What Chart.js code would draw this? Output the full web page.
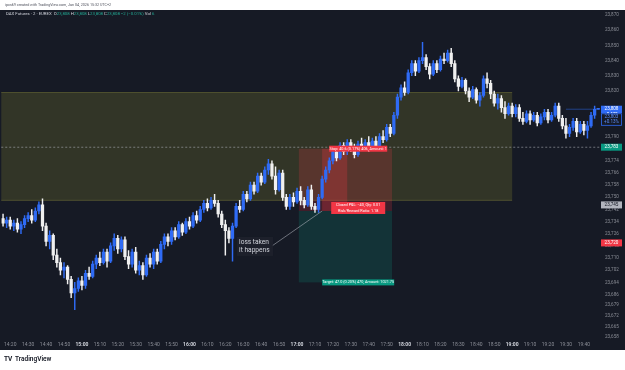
<!DOCTYPE html>
<html>
<head>
<meta charset="utf-8">
<script src="https://cdn.jsdelivr.net/npm/chart.js@4.4.1/dist/chart.umd.min.js"></script>
<style>
html,body{margin:0;padding:0;background:#ffffff;}
#wrap{width:625px;height:370px;}
</style>
</head>
<body>
<div id="wrap"><canvas id="chart" width="625" height="370"></canvas></div>
<script>
// 2 minute candles, 14:16 -> 19:48
const times = [];
for (let i = 0; i < 167; i++) {
    const m = 14 * 60 + 16 + i * 2;
    times.push(Math.floor(m / 60) + ":" + String(m % 60).padStart(2, "0"));
}

const opens = [23736,23733,
 23735,23731,23733,23729,23732, 23736,23738,23735,23741,23745, 23731,23721,23725,23712,23707,
 23702,23704,23696,23687,23690, 23695,23692,23700,23698,23706, 23710,23707,23714,23708,23718,
 23723,23716,23722,23711,23706, 23714,23702,23705,23699,23710, 23706,23714,23708,23719,23724,
 23721,23728,23724,23732,23727, 23734,23731,23738,23735,23742, 23746,23743,23748,23746,23739,
 23732,23728,23723,23731,23744, 23742,23752,23749,23758,23754, 23764,23760,23768,23772,23764,
 23755,23766,23750,23744,23750, 23747,23754,23748,23745,23755, 23744,23742,23750,23762,23768,
 23774,23780,23776,23784,23780, 23786,23782,23778,23785,23783, 23786,23782,23787,23784,23790,
 23788,23796,23792,23804,23816, 23822,23819,23832,23838,23833, 23840,23842,23836,23831,23838,
 23834,23841,23840,23845,23838, 23828,23823,23827,23820,23816, 23821,23814,23817,23828,23825,
 23818,23812,23815,23809,23805, 23810,23805,23809,23802,23800, 23805,23801,23804,23799,23803,
 23806,23801,23804,23810,23802, 23797,23792,23796,23800,23793, 23798,23794,23797,23804,23808];

const highs = [23739,23737,
 23737,23735,23736,23734,23738, 23740,23742,23743,23747,23749, 23733,23728,23726,23716,23710,
 23707,23705,23698,23694,23697, 23698,23702,23704,23708,23712, 23714,23716,23716,23720,23726,
 23725,23724,23724,23715,23716, 23717,23708,23707,23712,23713, 23716,23716,23721,23726,23726,
 23730,23730,23734,23733,23736, 23737,23740,23741,23744,23748, 23749,23750,23752,23748,23741,
 23735,23730,23733,23746,23748, 23754,23754,23760,23760,23766, 23766,23770,23775,23774,23770,
 23768,23768,23752,23752,23753, 23756,23757,23750,23757,23758, 23746,23752,23764,23770,23776,
 23782,23783,23786,23786,23788, 23788,23785,23787,23789,23788, 23790,23789,23790,23792,23794,
 23798,23798,23806,23818,23824, 23826,23834,23840,23840,23842, 23852,23844,23838,23840,23840,
 23843,23845,23847,23848,23840, 23830,23829,23828,23822,23823, 23822,23819,23830,23832,23827,
 23820,23818,23817,23813,23812, 23812,23811,23811,23806,23807, 23807,23806,23806,23805,23808,
 23808,23806,23812,23812,23804, 23802,23798,23802,23802,23800, 23800,23800,23806,23810,23808];

const lows = [23731,23730,
 23729,23728,23727,23726,23730, 23734,23733,23734,23739,23728, 23718,23716,23709,23704,23699,
 23697,23693,23684,23676,23688, 23689,23690,23696,23697,23703, 23705,23706,23704,23707,23715,
 23713,23714,23709,23703,23704, 23700,23699,23696,23698,23704, 23703,23706,23707,23716,23718,
 23719,23722,23723,23725,23726, 23729,23730,23733,23734,23740, 23741,23742,23744,23737,23730,
 23712,23720,23708,23730,23740, 23741,23747,23748,23752,23753, 23758,23759,23765,23762,23752,
 23754,23748,23742,23742,23744, 23746,23745,23743,23744,23742, 23740,23740,23749,23760,23766,
 23772,23774,23775,23778,23778, 23780,23776,23777,23781,23782, 23780,23781,23782,23783,23786,
 23787,23790,23791,23802,23814, 23817,23818,23830,23830,23832, 23838,23834,23828,23830,23832,
 23833,23838,23839,23836,23826, 23820,23822,23818,23813,23815, 23812,23810,23816,23822,23815,
 23810,23808,23806,23802,23804, 23803,23803,23800,23798,23799, 23798,23800,23797,23798,23801,
 23799,23800,23803,23800,23795, 23789,23790,23794,23790,23792, 23791,23789,23796,23802,23808];

const closes = [23733,23735,
 23731,23733,23729,23732,23736, 23738,23735,23741,23745,23731, 23721,23725,23712,23707,23702,
 23704,23696,23687,23690,23695, 23692,23700,23698,23706,23710, 23707,23714,23708,23718,23723,
 23716,23722,23711,23706,23714, 23702,23705,23699,23710,23706, 23714,23708,23719,23724,23721,
 23728,23724,23732,23727,23734, 23731,23738,23735,23742,23746, 23743,23748,23746,23739,23732,
 23728,23723,23731,23744,23742, 23752,23749,23758,23754,23764, 23760,23768,23772,23764,23755,
 23766,23750,23744,23750,23747, 23754,23748,23745,23755,23744, 23742,23750,23762,23768,23774,
 23780,23776,23784,23780,23786, 23782,23778,23785,23783,23786, 23782,23787,23784,23790,23788,
 23796,23792,23804,23816,23822, 23819,23832,23838,23833,23840, 23842,23836,23831,23838,23834,
 23841,23840,23845,23838,23828, 23823,23827,23820,23816,23821, 23814,23817,23828,23825,23818,
 23812,23815,23809,23805,23810, 23805,23809,23802,23800,23805, 23801,23804,23799,23803,23806,
 23801,23804,23810,23802,23797, 23792,23796,23800,23793,23798, 23794,23797,23804,23808,23808];

const yTicks = [23870,23860,23850,23840,23830,23820,23790,23782,23774,23766,23758,23750,23742,
 23734,23726,23718,23710,23702,23694,23686,23679,23672,23665,23658];

// drawings on the chart
const zoneTop = 23819, zoneBottom = 23748, zoneEnd = "19:00";
const posStart = "17:02", posEnd = "17:52";
const entryPrice = 23741, stopPrice = 23782, targetPrice = 23694;
const lossFrom = "17:14", lossTo = "17:28";
const dashPrice = 23783;
const lastPrice = 23808;
const noteTime = "16:36", notePrice = 23718;

const UP = "#2f6bf5";
const DOWN = "#f0f0f0";
const FONT = "Roboto";

function fmt(v){
    return Math.round(v).toLocaleString("en-US");
}

function isHour(ctx){
    const t = ctx.tick && ctx.tick.label;
    return typeof t === "string" && t.endsWith(":00");
}

function badge(c, area, yScale, price, lines, bg, fg, border){
    const yc = yScale.getPixelForValue(price);
    const h = lines.length * 5.5 + 1.5;
    const top = yc - 3.5;
    const left = area.right + 1;
    c.fillStyle = bg;
    c.fillRect(left, top, 21, h);
    if(border){
        c.strokeStyle = border;
        c.lineWidth = 0.8;
        c.strokeRect(left + 0.5, top + 0.5, 20, h - 1);
    }
    c.fillStyle = fg;
    c.font = "4.6px " + FONT;
    c.textAlign = "center";
    c.textBaseline = "middle";
    lines.forEach((s, k) => c.fillText(s, left + 10.5, yc + k * 5.5));
}

const drawings = {
    id: "drawings",
    beforeDraw(chart){
        const c = chart.ctx;
        c.save();
        c.fillStyle = "#ffffff";
        c.fillRect(0, 0, chart.width, chart.height);
        c.fillStyle = "#161a25";
        c.fillRect(0, 10, chart.width, 340);
        c.restore();
    },
    beforeDatasetsDraw(chart){
        const c = chart.ctx;
        const a = chart.chartArea;
        const x = chart.scales.x, y = chart.scales.y;
        const half = (x.getPixelForValue(1) - x.getPixelForValue(0)) / 2;
        const xOf = t => x.getPixelForValue(times.indexOf(t));
        c.save();

        // olive zone
        const zt = y.getPixelForValue(zoneTop), zb = y.getPixelForValue(zoneBottom);
        const zr = xOf(zoneEnd);
        c.fillStyle = "rgba(150,150,50,0.22)";
        c.fillRect(a.left, zt, zr - a.left, zb - zt);
        c.strokeStyle = "rgba(170,170,70,0.4)";
        c.lineWidth = 0.8;
        c.beginPath();
        c.moveTo(a.left, zt); c.lineTo(zr, zt);
        c.moveTo(a.left, zb); c.lineTo(zr, zb);
        c.stroke();

        // position tool
        const pl = xOf(posStart) - half, pr = xOf(posEnd) + half;
        const ye = y.getPixelForValue(entryPrice);
        const ys = y.getPixelForValue(stopPrice);
        const yt = y.getPixelForValue(targetPrice);
        c.fillStyle = "rgba(242,54,69,0.2)";
        c.fillRect(pl, ys, pr - pl, ye - ys);
        c.fillStyle = "rgba(8,153,129,0.2)";
        c.fillRect(pl, ye, pr - pl, yt - ye);
        const ll = xOf(lossFrom), lr = xOf(lossTo);
        c.fillStyle = "rgba(242,54,69,0.25)";
        c.fillRect(ll, ys, lr - ll, ye - ys);

        // dashed price line
        const yd = y.getPixelForValue(dashPrice);
        c.strokeStyle = "rgba(178,181,190,0.7)";
        c.lineWidth = 0.8;
        c.setLineDash([2, 2]);
        c.beginPath();
        c.moveTo(a.left, yd); c.lineTo(a.right, yd);
        c.stroke();
        c.setLineDash([]);

        // last price line
        const yl = y.getPixelForValue(lastPrice);
        c.strokeStyle = "rgba(47,107,245,0.8)";
        c.lineWidth = 0.6;
        c.beginPath();
        c.moveTo(xOf("19:30"), yl); c.lineTo(a.right, yl);
        c.stroke();
        c.restore();
    },
    afterDraw(chart){
        const c = chart.ctx;
        const a = chart.chartArea;
        const x = chart.scales.x, y = chart.scales.y;
        const xOf = t => x.getPixelForValue(times.indexOf(t));
        c.save();

        // position labels
        const ye = y.getPixelForValue(entryPrice);
        const ys = y.getPixelForValue(stopPrice);
        const yt = y.getPixelForValue(targetPrice);
        const lc = (xOf(lossFrom) + xOf(posEnd)) / 2 + 2;
        c.font = "3.8px " + FONT;
        c.textAlign = "center";
        c.textBaseline = "middle";
        c.fillStyle = "#f23645";
        c.fillRect(lc - 29, ys - 3, 58, 6);
        c.fillStyle = "#ffffff";
        c.fillText("Stop: 40.6 (0.17%) 406, Amount: 1", lc, ys);
        c.fillStyle = "#089981";
        c.fillRect(lc - 36, yt - 3, 72, 6);
        c.fillStyle = "#ffffff";
        c.fillText("Target: 47.0 (0.20%) 470, Amount: 1021.75", lc, yt);
        c.fillStyle = "#f23645";
        c.fillRect(lc - 27, ye - 9, 54, 12);
        c.fillStyle = "#ffffff";
        c.fillText("Closed P&L: \u221240, Qty: 0.01", lc, ye - 6);
        c.fillText("Risk/Reward Ratio: 1.18", lc, ye);

        // note
        const nx = xOf(noteTime) + 1, ny = y.getPixelForValue(notePrice);
        c.strokeStyle = "rgba(178,181,190,0.8)";
        c.lineWidth = 0.7;
        c.beginPath();
        c.moveTo(nx + 17, ny);
        c.lineTo(xOf(lossFrom), ye);
        c.stroke();
        c.fillStyle = "rgba(30,34,45,0.85)";
        c.fillRect(nx - 18, ny - 9, 36, 19);
        c.font = "6.6px " + FONT;
        c.textAlign = "left";
        c.fillStyle = "#d1d4dc";
        c.fillText("loss taken", nx - 16, ny - 4);
        c.fillText("it happens", nx - 16, ny + 4);

        // price axis badges
        badge(c, a, y, lastPrice, ["23,808", "+0.17%"], "#2f6bf5", "#ffffff");
        badge(c, a, y, 23803, ["23,803", "+0.13%"], "#161a25", "#5b8cf7", "#2f6bf5");
        badge(c, a, y, dashPrice, ["23,783"], "#089981", "#ffffff");
        badge(c, a, y, 23745, ["23,745"], "#b2b5be", "#131722");
        badge(c, a, y, 23720, ["23,720"], "#f23645", "#ffffff");

        // header
        c.textAlign = "left";
        c.textBaseline = "middle";
        c.font = "3.7px " + FONT;
        c.fillStyle = "#50535e";
        c.fillText("ipcs69 created with TradingView.com, Jan 04, 2026 15:32 UTC+2", 5, 5);

        c.font = "4.3px " + FONT;
        let px = 6;
        const parts = [
            ["DAX Futures \u00b7 2 \u00b7 EUREX  ", "#d1d4dc"],
            ["O", "#d1d4dc"], ["23,808 ", "#22ab94"],
            ["H", "#d1d4dc"], ["23,808 ", "#22ab94"],
            ["L", "#d1d4dc"], ["23,808 ", "#22ab94"],
            ["C", "#d1d4dc"], ["23,808 ", "#22ab94"],
            ["\u22122 (\u22120.01%) ", "#22ab94"],
            ["Vol ", "#d1d4dc"], ["6", "#22ab94"]
        ];
        parts.forEach(p => {
            c.fillStyle = p[1];
            c.fillText(p[0], px, 14);
            px += c.measureText(p[0]).width;
        });

        // footer logo
        c.fillStyle = "#131722";
        c.font = "bold 6.5px " + FONT;
        c.fillText("TV", 4, 359);
        c.font = "600 6.5px " + FONT;
        c.fillText("TradingView", 15, 359);
        c.restore();
    }
};

const bodyData = opens.map((o, i) => [o, closes[i]]);
const wickData = lows.map((l, i) => [l, highs[i]]);
const candleColor = ctx => closes[ctx.dataIndex] >= opens[ctx.dataIndex] ? UP : DOWN;

new Chart(document.getElementById("chart"), {
    type: "bar",
    data: {
        labels: times,
        datasets: [
            {
                label: "body",
                data: bodyData,
                backgroundColor: candleColor,
                borderWidth: 0,
                barThickness: 2.6,
                minBarLength: 1,
                grouped: false
            },
            {
                label: "wick",
                data: wickData,
                backgroundColor: candleColor,
                borderWidth: 0,
                barThickness: 0.8,
                grouped: false
            }
        ]
    },
    options: {
        responsive: false,
        animation: false,
        devicePixelRatio: 1,
        events: [],
        layout: { padding: { left: 0, right: 0, top: 10, bottom: 20 } },
        plugins: { legend: { display: false }, tooltip: { enabled: false } },
        scales: {
            x: {
                type: "category",
                offset: true,
                grid: { display: false, drawTicks: false },
                border: { display: false },
                afterFit: s => { s.height = 12; },
                ticks: {
                    autoSkip: false,
                    maxRotation: 0,
                    minRotation: 0,
                    padding: 4,
                    color: ctx => isHour(ctx) ? "#d1d4dc" : "#8a8d96",
                    font: ctx => ({
                        family: FONT,
                        size: 5,
                        weight: isHour(ctx) ? "bold" : "normal"
                    }),
                    callback: (v, i) => times[i].endsWith("0") ? times[i] : null
                }
            },
            y: {
                position: "right",
                min: 23657.4,
                max: 23873.3,
                grid: { display: false, drawTicks: false },
                border: { display: false },
                afterFit: s => { s.width = 25; },
                afterBuildTicks: s => { s.ticks = yTicks.map(v => ({ value: v })); },
                ticks: {
                    padding: 5,
                    color: "#8a8d96",
                    font: { family: FONT, size: 4.6 },
                    callback: v => fmt(v)
                }
            }
        }
    },
    plugins: [drawings]
});
</script>
</body>
</html>
